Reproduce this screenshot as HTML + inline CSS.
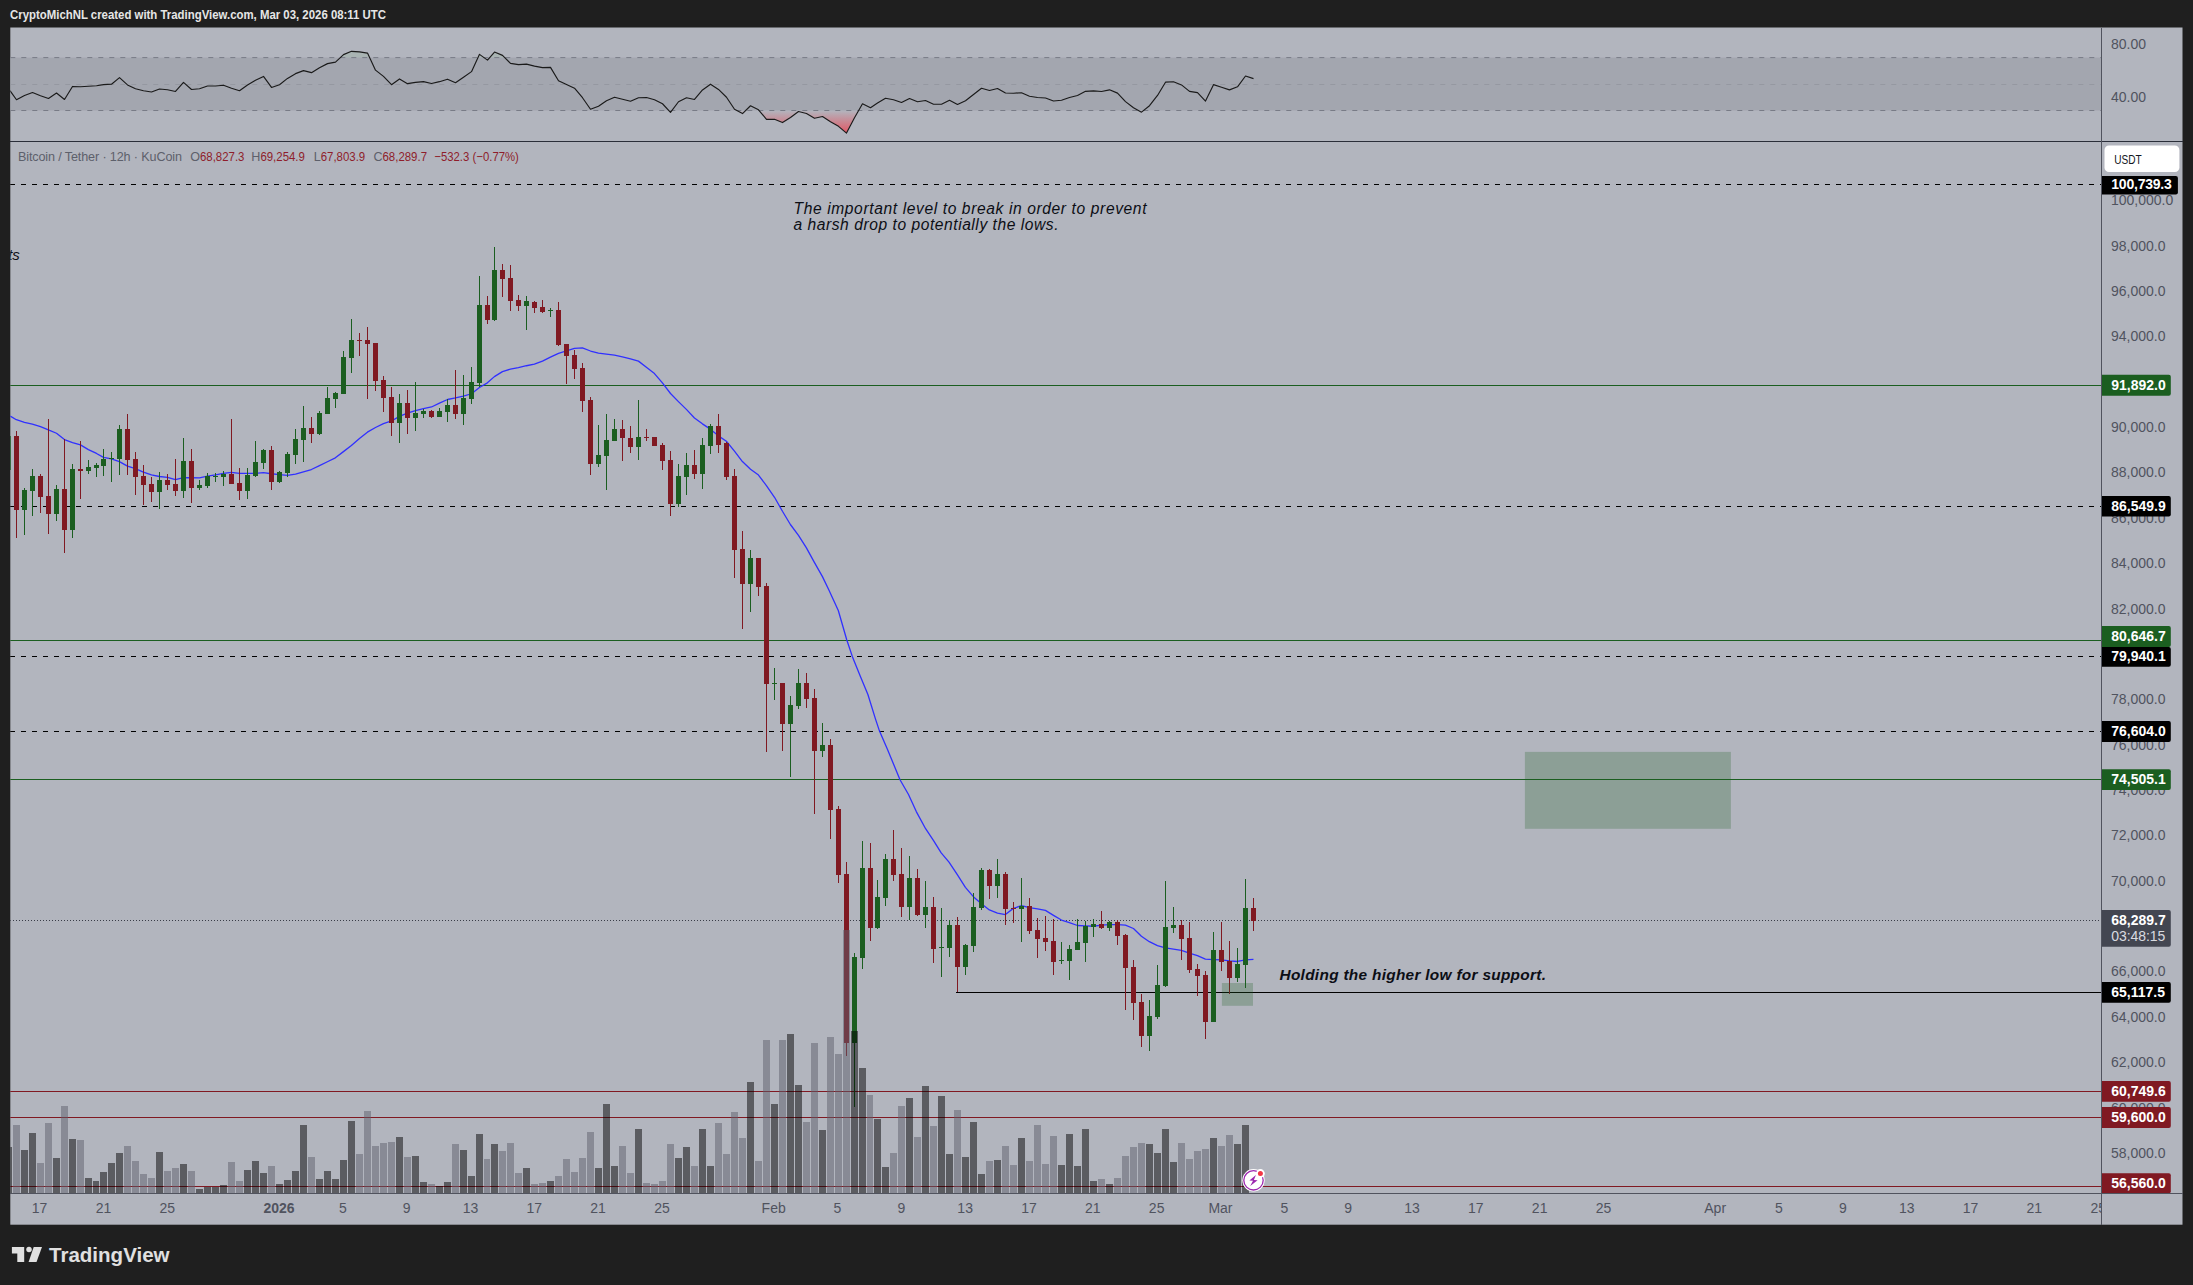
<!DOCTYPE html>
<html lang="en"><head><meta charset="utf-8"><title>BTCUSDT 12h chart</title>
<style>html,body{margin:0;padding:0;background:#1f1f1f;}body{width:2193px;height:1285px;overflow:hidden;position:relative;}svg{position:absolute;left:0;top:0;display:block;}text{font-family:'Liberation Sans', 'DejaVu Sans', sans-serif;}</style></head><body>
<svg width="2193" height="1285" viewBox="0 0 2193 1285">
<defs>
<clipPath id="cm"><rect x="10.3" y="142" width="2090.7" height="1051"/></clipPath>
<clipPath id="cr"><rect x="10.3" y="27.5" width="2090.7" height="113.5"/></clipPath>
<clipPath id="ct"><rect x="10.3" y="1194" width="2090.7" height="30.7"/></clipPath>
<clipPath id="cp"><rect x="2102" y="142" width="80.5" height="1051"/></clipPath>
<linearGradient id="gr" gradientUnits="userSpaceOnUse" x1="0" y1="110.5" x2="0" y2="135"><stop offset="0" stop-color="#f23645" stop-opacity="0"/><stop offset="1" stop-color="#f23645" stop-opacity="0.8"/></linearGradient>
</defs>
<rect x="0" y="0" width="2193" height="1285" fill="#1f1f1f"/>
<rect x="10.3" y="27.5" width="2172.2" height="1197.2" fill="#b2b5be"/>
<text x="10" y="19.2" font-size="12.6" font-weight="bold" fill="#e6e6e6" textLength="376" lengthAdjust="spacingAndGlyphs">CryptoMichNL created with TradingView.com, Mar 03, 2026 08:11 UTC</text>
<g clip-path="url(#cr)">
<rect x="10.3" y="57.6" width="2090.7" height="52.9" fill="#a3a6af"/>
<polygon points="668.83,110.5 670.5,112.28 671.85,110.5" fill="url(#gr)"/>
<polygon points="736.8,110.5 742.5,113.54 745.63,110.5" fill="url(#gr)"/>
<polygon points="759.11,110.5 766.5,119.31 774.5,119.31 782.5,122.57 790.5,117.55 798.5,111.53 806.5,113.54 814.5,118.3 822.5,116.55 830.5,121.81 838.5,126.33 846.5,133.1 854.5,117.8 858.66,110.5" fill="url(#gr)"/>
<polygon points="1138.5,110.5 1141.5,112.14 1143.54,110.5" fill="url(#gr)"/>
<polygon points="340.31,57.6 343.5,54.6 351.5,51.34 359.5,51.84 367.5,53.09 369.61,57.6" fill="#4caf50" fill-opacity="0.09"/>
<polygon points="478,57.6 479.5,54.35 484.01,57.6" fill="#4caf50" fill-opacity="0.09"/>
<polygon points="489.69,57.6 494.5,52.09 502.5,55.35 504.74,57.6" fill="#4caf50" fill-opacity="0.09"/>
<line x1="10.3" y1="57.6" x2="2101" y2="57.6" stroke="#787b86" stroke-width="1" stroke-dasharray="5 6"/>
<line x1="10.3" y1="84.5" x2="2101" y2="84.5" stroke="#9598a1" stroke-width="1" stroke-dasharray="5 6"/>
<line x1="10.3" y1="110.5" x2="2101" y2="110.5" stroke="#787b86" stroke-width="1" stroke-dasharray="5 6"/>
<polyline points="10,90.71 16.5,99.74 24.5,95.48 32.5,92.47 40.5,95.73 48.5,98.49 56.5,92.97 64.5,99.49 72.5,86.45 80.5,86.7 88.5,86.2 96.5,85.7 103.5,84.69 111.5,84.19 119.5,77.67 127.5,84.94 135.5,88.71 143.5,90.71 151.5,91.97 159.5,88.96 167.5,89.71 175.5,91.47 183.5,82.44 191.5,89.46 199.5,88.71 207.5,85.95 215.5,85.95 223.5,85.2 231.5,88.21 239.5,90.71 247.5,84.94 255.5,80.18 263.5,76.42 271.5,87.45 279.5,84.69 287.5,78.42 295.5,73.66 303.5,70.65 311.5,72.65 319.5,67.64 327.5,63.63 335.5,62.12 343.5,54.6 351.5,51.34 359.5,51.84 367.5,53.09 375.5,70.15 383.5,76.42 391.5,84.69 399.5,78.93 407.5,83.69 415.5,82.44 423.5,81.68 431.5,83.44 439.5,81.68 447.5,79.18 455.5,82.69 463.5,77.17 471.5,71.65 479.5,54.35 487.5,60.11 494.5,52.09 502.5,55.35 510.5,63.37 518.5,64.63 526.5,64.13 534.5,66.13 542.5,67.64 550.5,67.39 558.5,80.68 566.5,84.44 574.5,88.21 582.5,97.74 590.5,109.27 598.5,106.26 606.5,100.75 614.5,97.23 622.5,99.24 630.5,101.25 638.5,97.74 646.5,97.49 654.5,99.74 662.5,103.76 670.5,112.28 678.5,101.75 686.5,97.74 694.5,99.49 702.5,89.96 710.5,84.19 718.5,89.46 726.5,97.23 734.5,109.27 742.5,113.54 750.5,105.76 758.5,109.78 766.5,119.31 774.5,119.31 782.5,122.57 790.5,117.55 798.5,111.53 806.5,113.54 814.5,118.3 822.5,116.55 830.5,121.81 838.5,126.33 846.5,133.1 854.5,117.8 862.5,103.76 870.5,107.77 877.5,103 885.5,98.24 893.5,99.74 901.5,102.5 909.5,98.49 917.5,101.75 925.5,100.5 933.5,104.26 941.5,104.26 949.5,100.24 957.5,104.51 965.5,100.75 973.5,94.48 981.5,88.21 989.5,90.46 997.5,88.46 1005.5,92.97 1013.5,93.22 1021.5,92.72 1029.5,96.23 1037.5,97.49 1045.5,97.99 1053.5,101 1061.5,100.24 1069.5,97.5 1077.5,95.45 1085.5,91.35 1093.5,90.94 1101.5,91.48 1109.5,89.84 1117.5,93.13 1125.5,101.61 1133.5,107.76 1141.5,112.14 1149.5,105.71 1157.5,95.45 1165.5,82.18 1173.5,81.77 1181.5,84.92 1189.5,91.35 1197.5,92.58 1205.5,101.06 1213.5,84.64 1221.5,87.24 1229.5,89.84 1237.5,86.83 1245.5,76.03 1253.5,78.63" fill="none" stroke="#1a1a1a" stroke-width="1.15" stroke-linejoin="round"/>
</g>
<text x="2111" y="49.3" font-size="14" fill="#50535e">80.00</text>
<text x="2111" y="102.2" font-size="14" fill="#50535e">40.00</text>
<g clip-path="url(#cm)">
<line x1="10.3" y1="184.5" x2="2101" y2="184.5" stroke="#000" stroke-width="1" stroke-dasharray="5 6" shape-rendering="crispEdges"/>
<line x1="10.3" y1="506.5" x2="2101" y2="506.5" stroke="#000" stroke-width="1" stroke-dasharray="5 6" shape-rendering="crispEdges"/>
<line x1="10.3" y1="656.5" x2="2101" y2="656.5" stroke="#000" stroke-width="1" stroke-dasharray="5 6" shape-rendering="crispEdges"/>
<line x1="10.3" y1="731.5" x2="2101" y2="731.5" stroke="#000" stroke-width="1" stroke-dasharray="5 6" shape-rendering="crispEdges"/>
<line x1="10.3" y1="385.5" x2="2101" y2="385.5" stroke="#1b5e20" stroke-width="1" shape-rendering="crispEdges"/>
<line x1="10.3" y1="640.5" x2="2101" y2="640.5" stroke="#1b5e20" stroke-width="1" shape-rendering="crispEdges"/>
<line x1="10.3" y1="779.5" x2="2101" y2="779.5" stroke="#1b5e20" stroke-width="1" shape-rendering="crispEdges"/>
<line x1="10.3" y1="1091.5" x2="2101" y2="1091.5" stroke="#801922" stroke-width="1" shape-rendering="crispEdges"/>
<line x1="10.3" y1="1117.5" x2="2101" y2="1117.5" stroke="#801922" stroke-width="1" shape-rendering="crispEdges"/>
<line x1="10.3" y1="1186.5" x2="2101" y2="1186.5" stroke="#801922" stroke-width="1" shape-rendering="crispEdges"/>
<line x1="10.3" y1="920.5" x2="2101" y2="920.5" stroke="#3a3d48" stroke-width="1" stroke-dasharray="1 2" shape-rendering="crispEdges"/>
<line x1="956" y1="992.5" x2="2101" y2="992.5" stroke="#000" stroke-width="1" shape-rendering="crispEdges"/>
<polyline points="10.27,416.11 16.34,419.69 24.44,422.33 32.37,424.05 40.47,426.69 48.4,429.81 56.5,433.23 64.44,439.61 72.53,442.57 80.47,444.9 88.4,449.57 96.5,453.46 103.5,457.35 111.44,458.91 119.38,461.56 127.47,466.07 135.41,468.72 143.35,472.14 151.44,474.94 159.38,476.5 167.47,477.28 175.41,479.61 183.5,477.59 191.44,477.74 199.47,477.78 207.41,476.23 215.51,474.98 223.44,473.42 231.38,472.33 239.47,473.42 247.41,473.42 255.51,473.42 263.44,472.65 271.38,473.74 279.47,474.67 287.41,475.45 295.51,474.2 303.44,471.87 311.38,469.53 319.47,465.64 327.41,461.75 335.35,457.86 343.44,451.63 351.38,445.41 359.47,438.4 367.41,432.18 375.51,427.51 383.44,423.62 391.5,420.99 399.44,416.32 407.37,413.21 415.47,410.56 423.4,408.54 431.5,406.98 439.44,403.09 447.53,399.51 455.47,397.96 463.4,396.09 471.5,393.75 479.44,387.53 487.37,382.86 494.38,376.63 502.47,371.65 510.41,369.16 518.35,367.61 526.44,365.74 534.38,364.18 542.47,361.07 550.41,357.18 558.5,353.29 566.44,350.95 574.47,348.37 582.41,347.9 590.51,351.01 598.44,353.04 606.38,354.12 614.47,355.21 622.41,356.77 630.51,358.95 638.44,361.13 646.38,367.35 654.47,373.58 662.41,382.92 670.51,393.5 678.44,401.6 686.38,409.38 694.47,417.94 702.41,423.85 710.35,429.14 718.44,435.84 726.38,441.28 734.47,451.09 742.41,461.52 750.51,469.3 758.48,475.02 766.42,485.6 774.51,497.28 782.45,511.28 790.39,524.51 798.48,535.41 806.42,547.86 814.51,562.65 822.45,576.65 829,590.2 838.3,610.5 846.8,640 852.3,656.4 860.1,675.8 867.9,694.5 875.6,719.4 879.5,731.1 887.3,749 900,779.7 908.5,794.5 916.3,811.6 925.6,828.7 933.4,840.4 941.2,852.8 949,862.2 957.47,874.9 965.41,887.35 973.35,896.69 981.44,903.7 989.38,909.92 997.47,913.04 1005.41,914.59 1013.35,908.37 1021.44,905.72 1029.38,907.59 1037.47,908.83 1045.41,910.39 1053.5,915.37 1061.44,920.04 1069.38,922.68 1077.47,925.49 1085.41,925.95 1093.35,926.26 1101.44,925.18 1109.38,924.71 1117.47,924.71 1125.41,925.18 1133.46,928.48 1141.4,936.26 1149.34,941.71 1157.43,945.6 1165.37,947.94 1173.46,949.03 1181.4,950.27 1189.34,953.07 1197.43,955.72 1205.37,959.14 1213.31,959.61 1221.4,959.92 1229.49,960.86 1237.43,961.48 1245.53,959.92 1253.46,959.3" fill="none" stroke="#3030ff" stroke-width="1.3" stroke-linejoin="round"/>
<g shape-rendering="crispEdges">
<rect x="6" y="436" width="5" height="33.5" fill="#1b5e20"/>
<rect x="16" y="431.05" width="1" height="106.93" fill="#801922"/>
<rect x="14" y="436.34" width="5" height="73.31" fill="#801922"/>
<rect x="24" y="487.86" width="1" height="47" fill="#1b5e20"/>
<rect x="22" y="490.04" width="5" height="19.61" fill="#1b5e20"/>
<rect x="32" y="469.18" width="1" height="46.69" fill="#1b5e20"/>
<rect x="30" y="476.19" width="5" height="14.63" fill="#1b5e20"/>
<rect x="40" y="474.01" width="1" height="39.07" fill="#801922"/>
<rect x="38" y="476.19" width="5" height="20.54" fill="#801922"/>
<rect x="48" y="419.07" width="1" height="114.71" fill="#801922"/>
<rect x="46" y="496.11" width="5" height="17.59" fill="#801922"/>
<rect x="56" y="485.21" width="1" height="35.64" fill="#1b5e20"/>
<rect x="54" y="489.11" width="5" height="24.59" fill="#1b5e20"/>
<rect x="64" y="439.3" width="1" height="113.46" fill="#801922"/>
<rect x="62" y="489.11" width="5" height="40.78" fill="#801922"/>
<rect x="72" y="464.2" width="1" height="73.62" fill="#1b5e20"/>
<rect x="70" y="469.03" width="5" height="60.86" fill="#1b5e20"/>
<rect x="80" y="441.17" width="1" height="57.9" fill="#801922"/>
<rect x="78" y="469.18" width="5" height="1.56" fill="#801922"/>
<rect x="88" y="460.16" width="1" height="13.7" fill="#1b5e20"/>
<rect x="86" y="467.16" width="5" height="3.58" fill="#1b5e20"/>
<rect x="96" y="463.11" width="1" height="13.7" fill="#1b5e20"/>
<rect x="94" y="465.14" width="5" height="2.49" fill="#1b5e20"/>
<rect x="103" y="449.11" width="1" height="26.77" fill="#1b5e20"/>
<rect x="101" y="459.07" width="5" height="6.69" fill="#1b5e20"/>
<rect x="111" y="452.06" width="1" height="29.88" fill="#1b5e20"/>
<rect x="109" y="458.13" width="5" height="1" fill="#1b5e20"/>
<rect x="119" y="425.14" width="1" height="49.65" fill="#1b5e20"/>
<rect x="117" y="429.18" width="5" height="29.73" fill="#1b5e20"/>
<rect x="127" y="413.93" width="1" height="60.86" fill="#801922"/>
<rect x="125" y="429.18" width="5" height="30.66" fill="#801922"/>
<rect x="135" y="452.06" width="1" height="42.96" fill="#801922"/>
<rect x="133" y="459.22" width="5" height="17.59" fill="#801922"/>
<rect x="143" y="465.14" width="1" height="39.84" fill="#801922"/>
<rect x="141" y="476.19" width="5" height="8.72" fill="#801922"/>
<rect x="151" y="477.12" width="1" height="24.75" fill="#801922"/>
<rect x="149" y="484.12" width="5" height="7.63" fill="#801922"/>
<rect x="159" y="472.14" width="1" height="36.73" fill="#1b5e20"/>
<rect x="157" y="480.08" width="5" height="11.67" fill="#1b5e20"/>
<rect x="167" y="474.01" width="1" height="15.88" fill="#801922"/>
<rect x="165" y="480.08" width="5" height="4.82" fill="#801922"/>
<rect x="175" y="459.07" width="1" height="36.89" fill="#801922"/>
<rect x="173" y="484.12" width="5" height="6.69" fill="#801922"/>
<rect x="183" y="438.05" width="1" height="59.77" fill="#1b5e20"/>
<rect x="181" y="461.09" width="5" height="29.73" fill="#1b5e20"/>
<rect x="191" y="449.11" width="1" height="53.85" fill="#801922"/>
<rect x="189" y="461.09" width="5" height="26.61" fill="#801922"/>
<rect x="199" y="480.12" width="1" height="9.65" fill="#1b5e20"/>
<rect x="197" y="485.41" width="5" height="2.33" fill="#1b5e20"/>
<rect x="207" y="473.11" width="1" height="14.63" fill="#1b5e20"/>
<rect x="205" y="476.23" width="5" height="9.65" fill="#1b5e20"/>
<rect x="215" y="473.11" width="1" height="8.87" fill="#1b5e20"/>
<rect x="213" y="475.76" width="5" height="1.09" fill="#1b5e20"/>
<rect x="223" y="471.09" width="1" height="14.79" fill="#1b5e20"/>
<rect x="221" y="474.2" width="5" height="2.65" fill="#1b5e20"/>
<rect x="231" y="418.95" width="1" height="64.75" fill="#801922"/>
<rect x="229" y="473.74" width="5" height="9.96" fill="#801922"/>
<rect x="239" y="467.98" width="1" height="31.91" fill="#801922"/>
<rect x="237" y="483.07" width="5" height="7.78" fill="#801922"/>
<rect x="247" y="467.98" width="1" height="30.82" fill="#1b5e20"/>
<rect x="245" y="475.14" width="5" height="15.72" fill="#1b5e20"/>
<rect x="255" y="441.05" width="1" height="35.8" fill="#1b5e20"/>
<rect x="253" y="462.06" width="5" height="14.01" fill="#1b5e20"/>
<rect x="263" y="448.99" width="1" height="20.08" fill="#1b5e20"/>
<rect x="261" y="450.08" width="5" height="12.76" fill="#1b5e20"/>
<rect x="271" y="445.88" width="1" height="43.89" fill="#801922"/>
<rect x="269" y="450.08" width="5" height="31.75" fill="#801922"/>
<rect x="279" y="471.09" width="1" height="11.67" fill="#1b5e20"/>
<rect x="277" y="472.18" width="5" height="9.65" fill="#1b5e20"/>
<rect x="287" y="451.95" width="1" height="24.9" fill="#1b5e20"/>
<rect x="285" y="453.97" width="5" height="18.83" fill="#1b5e20"/>
<rect x="295" y="429.07" width="1" height="34.86" fill="#1b5e20"/>
<rect x="293" y="439.03" width="5" height="15.72" fill="#1b5e20"/>
<rect x="303" y="406.03" width="1" height="56.03" fill="#1b5e20"/>
<rect x="301" y="427.98" width="5" height="11.83" fill="#1b5e20"/>
<rect x="311" y="417.08" width="1" height="25.99" fill="#801922"/>
<rect x="309" y="427.98" width="5" height="5.91" fill="#801922"/>
<rect x="319" y="410.86" width="1" height="24.12" fill="#1b5e20"/>
<rect x="317" y="413.04" width="5" height="20.86" fill="#1b5e20"/>
<rect x="327" y="386.89" width="1" height="26.93" fill="#1b5e20"/>
<rect x="325" y="398.09" width="5" height="15.72" fill="#1b5e20"/>
<rect x="335" y="392.02" width="1" height="16.03" fill="#1b5e20"/>
<rect x="333" y="393.11" width="5" height="5.6" fill="#1b5e20"/>
<rect x="343" y="351.09" width="1" height="42.8" fill="#1b5e20"/>
<rect x="341" y="357.16" width="5" height="36.73" fill="#1b5e20"/>
<rect x="351" y="319.03" width="1" height="54.01" fill="#1b5e20"/>
<rect x="349" y="340.04" width="5" height="17.9" fill="#1b5e20"/>
<rect x="359" y="333.04" width="1" height="23.04" fill="#801922"/>
<rect x="357" y="340.04" width="5" height="1" fill="#801922"/>
<rect x="367" y="327.12" width="1" height="71.91" fill="#801922"/>
<rect x="365" y="340.04" width="5" height="3.74" fill="#801922"/>
<rect x="375" y="343" width="1" height="47.94" fill="#801922"/>
<rect x="373" y="343" width="5" height="37.98" fill="#801922"/>
<rect x="383" y="375.99" width="1" height="35.95" fill="#801922"/>
<rect x="381" y="380.04" width="5" height="17.9" fill="#801922"/>
<rect x="391" y="387.06" width="1" height="48.72" fill="#801922"/>
<rect x="389" y="397.18" width="5" height="25.68" fill="#801922"/>
<rect x="399" y="394.07" width="1" height="48.72" fill="#1b5e20"/>
<rect x="397" y="403.09" width="5" height="19.77" fill="#1b5e20"/>
<rect x="407" y="390.02" width="1" height="43.89" fill="#801922"/>
<rect x="405" y="403.09" width="5" height="14.79" fill="#801922"/>
<rect x="415" y="381.93" width="1" height="48.87" fill="#1b5e20"/>
<rect x="413" y="413.21" width="5" height="4.67" fill="#1b5e20"/>
<rect x="423" y="409.01" width="1" height="8.87" fill="#1b5e20"/>
<rect x="421" y="411.19" width="5" height="2.49" fill="#1b5e20"/>
<rect x="431" y="410.1" width="1" height="7.78" fill="#801922"/>
<rect x="429" y="411.19" width="5" height="5.45" fill="#801922"/>
<rect x="439" y="408.07" width="1" height="8.56" fill="#1b5e20"/>
<rect x="437" y="411.19" width="5" height="5.45" fill="#1b5e20"/>
<rect x="447" y="399.2" width="1" height="22.57" fill="#1b5e20"/>
<rect x="445" y="405.12" width="5" height="6.69" fill="#1b5e20"/>
<rect x="455" y="369.94" width="1" height="48.72" fill="#801922"/>
<rect x="453" y="405.12" width="5" height="8.56" fill="#801922"/>
<rect x="463" y="375.08" width="1" height="49.81" fill="#1b5e20"/>
<rect x="461" y="398.11" width="5" height="15.56" fill="#1b5e20"/>
<rect x="471" y="366.98" width="1" height="36.89" fill="#1b5e20"/>
<rect x="469" y="381.93" width="5" height="16.81" fill="#1b5e20"/>
<rect x="479" y="276.09" width="1" height="110.66" fill="#1b5e20"/>
<rect x="477" y="305.04" width="5" height="77.82" fill="#1b5e20"/>
<rect x="487" y="296.01" width="1" height="28.02" fill="#801922"/>
<rect x="485" y="305.04" width="5" height="14.79" fill="#801922"/>
<rect x="494" y="246.98" width="1" height="73.93" fill="#1b5e20"/>
<rect x="492" y="270.02" width="5" height="49.81" fill="#1b5e20"/>
<rect x="502" y="264.11" width="1" height="32.84" fill="#801922"/>
<rect x="500" y="270.02" width="5" height="8.87" fill="#801922"/>
<rect x="510" y="265.04" width="1" height="45.91" fill="#801922"/>
<rect x="508" y="278.11" width="5" height="22.72" fill="#801922"/>
<rect x="518" y="295.08" width="1" height="15.88" fill="#801922"/>
<rect x="516" y="300.06" width="5" height="5.76" fill="#801922"/>
<rect x="526" y="296.17" width="1" height="33.77" fill="#1b5e20"/>
<rect x="524" y="301.15" width="5" height="4.67" fill="#1b5e20"/>
<rect x="534" y="300.99" width="1" height="11.83" fill="#801922"/>
<rect x="532" y="301.93" width="5" height="5.91" fill="#801922"/>
<rect x="542" y="300.06" width="1" height="12.76" fill="#801922"/>
<rect x="540" y="307.06" width="5" height="4.82" fill="#801922"/>
<rect x="550" y="308" width="1" height="9.03" fill="#1b5e20"/>
<rect x="548" y="310.02" width="5" height="1" fill="#1b5e20"/>
<rect x="558" y="301.93" width="1" height="43.89" fill="#801922"/>
<rect x="556" y="310.02" width="5" height="34.86" fill="#801922"/>
<rect x="566" y="343.95" width="1" height="40" fill="#801922"/>
<rect x="564" y="343.95" width="5" height="11.67" fill="#801922"/>
<rect x="574" y="350.23" width="1" height="28.79" fill="#801922"/>
<rect x="572" y="354.9" width="5" height="14.01" fill="#801922"/>
<rect x="582" y="363" width="1" height="49.03" fill="#801922"/>
<rect x="580" y="368.13" width="5" height="32.84" fill="#801922"/>
<rect x="590" y="396.93" width="1" height="78.13" fill="#801922"/>
<rect x="588" y="400.04" width="5" height="63.81" fill="#801922"/>
<rect x="598" y="424.94" width="1" height="42.02" fill="#1b5e20"/>
<rect x="596" y="454.98" width="5" height="8.87" fill="#1b5e20"/>
<rect x="606" y="414.05" width="1" height="75.95" fill="#1b5e20"/>
<rect x="604" y="440.04" width="5" height="15.72" fill="#1b5e20"/>
<rect x="614" y="419.03" width="1" height="21.79" fill="#1b5e20"/>
<rect x="612" y="428.99" width="5" height="11.83" fill="#1b5e20"/>
<rect x="622" y="419.96" width="1" height="41.09" fill="#801922"/>
<rect x="620" y="428.99" width="5" height="8.87" fill="#801922"/>
<rect x="630" y="426.03" width="1" height="26.93" fill="#801922"/>
<rect x="628" y="437.86" width="5" height="9.03" fill="#801922"/>
<rect x="638" y="400.04" width="1" height="59.92" fill="#1b5e20"/>
<rect x="636" y="436.93" width="5" height="9.96" fill="#1b5e20"/>
<rect x="646" y="428.99" width="1" height="11.83" fill="#801922"/>
<rect x="644" y="436.93" width="5" height="1" fill="#801922"/>
<rect x="654" y="436.93" width="1" height="9.03" fill="#801922"/>
<rect x="652" y="436.93" width="5" height="9.03" fill="#801922"/>
<rect x="662" y="443" width="1" height="27.08" fill="#801922"/>
<rect x="660" y="444.86" width="5" height="16.19" fill="#801922"/>
<rect x="670" y="450.93" width="1" height="65.06" fill="#801922"/>
<rect x="668" y="459.96" width="5" height="43.89" fill="#801922"/>
<rect x="678" y="463.85" width="1" height="43.11" fill="#1b5e20"/>
<rect x="676" y="475.99" width="5" height="27.86" fill="#1b5e20"/>
<rect x="686" y="452.96" width="1" height="42.02" fill="#1b5e20"/>
<rect x="684" y="464.94" width="5" height="11.98" fill="#1b5e20"/>
<rect x="694" y="449.84" width="1" height="29.11" fill="#801922"/>
<rect x="692" y="464.94" width="5" height="9.03" fill="#801922"/>
<rect x="702" y="437.86" width="1" height="51.21" fill="#1b5e20"/>
<rect x="700" y="444.86" width="5" height="29.11" fill="#1b5e20"/>
<rect x="710" y="424.01" width="1" height="30.04" fill="#1b5e20"/>
<rect x="708" y="426.03" width="5" height="19.92" fill="#1b5e20"/>
<rect x="718" y="414.05" width="1" height="38.91" fill="#801922"/>
<rect x="716" y="426.03" width="5" height="18.83" fill="#801922"/>
<rect x="726" y="442.06" width="1" height="37.82" fill="#801922"/>
<rect x="724" y="443" width="5" height="33.93" fill="#801922"/>
<rect x="734" y="469" width="1" height="108.9" fill="#801922"/>
<rect x="732" y="476" width="5" height="73.9" fill="#801922"/>
<rect x="742" y="531" width="1" height="97.8" fill="#801922"/>
<rect x="740" y="549" width="5" height="34.7" fill="#801922"/>
<rect x="750" y="549.9" width="1" height="61.8" fill="#1b5e20"/>
<rect x="748" y="558" width="5" height="25.7" fill="#1b5e20"/>
<rect x="758" y="558" width="1" height="37.7" fill="#801922"/>
<rect x="756" y="558" width="5" height="28.7" fill="#801922"/>
<rect x="766" y="583.2" width="1" height="168.6" fill="#801922"/>
<rect x="764" y="586" width="5" height="97.9" fill="#801922"/>
<rect x="774" y="668" width="1" height="32" fill="#1b5e20"/>
<rect x="772" y="683" width="5" height="1.3" fill="#1b5e20"/>
<rect x="782" y="683" width="1" height="67.9" fill="#801922"/>
<rect x="780" y="683" width="5" height="41.1" fill="#801922"/>
<rect x="790" y="696" width="1" height="80.9" fill="#1b5e20"/>
<rect x="788" y="705" width="5" height="19.1" fill="#1b5e20"/>
<rect x="798" y="669" width="1" height="40" fill="#1b5e20"/>
<rect x="796" y="683" width="5" height="22.9" fill="#1b5e20"/>
<rect x="806" y="673" width="1" height="35" fill="#801922"/>
<rect x="804" y="683" width="5" height="16" fill="#801922"/>
<rect x="814" y="689" width="1" height="124.9" fill="#801922"/>
<rect x="812" y="697.9" width="5" height="53" fill="#801922"/>
<rect x="822" y="723" width="1" height="33.8" fill="#1b5e20"/>
<rect x="820" y="745.1" width="5" height="5.8" fill="#1b5e20"/>
<rect x="830" y="738.9" width="1" height="99.9" fill="#801922"/>
<rect x="828" y="745.1" width="5" height="64.9" fill="#801922"/>
<rect x="838" y="806.1" width="1" height="76.8" fill="#801922"/>
<rect x="836" y="809" width="5" height="65.9" fill="#801922"/>
<rect x="846" y="862" width="1" height="193.7" fill="#801922"/>
<rect x="844" y="873.9" width="5" height="168.7" fill="#801922"/>
<rect x="854" y="953" width="1" height="154.4" fill="#1b5e20"/>
<rect x="852" y="957" width="5" height="85.6" fill="#1b5e20"/>
<rect x="862" y="840.9" width="1" height="128.1" fill="#1b5e20"/>
<rect x="860" y="867.9" width="5" height="89.9" fill="#1b5e20"/>
<rect x="870" y="843" width="1" height="98" fill="#801922"/>
<rect x="868" y="867.9" width="5" height="60" fill="#801922"/>
<rect x="877" y="880.1" width="1" height="48.4" fill="#1b5e20"/>
<rect x="875" y="897.2" width="5" height="30.7" fill="#1b5e20"/>
<rect x="885" y="853.9" width="1" height="52.1" fill="#1b5e20"/>
<rect x="883" y="859.1" width="5" height="38.9" fill="#1b5e20"/>
<rect x="893" y="830" width="1" height="50.9" fill="#801922"/>
<rect x="891" y="859.1" width="5" height="15.8" fill="#801922"/>
<rect x="901" y="847.9" width="1" height="69.1" fill="#801922"/>
<rect x="899" y="873.9" width="5" height="32.9" fill="#801922"/>
<rect x="909" y="856" width="1" height="64" fill="#1b5e20"/>
<rect x="907" y="877.9" width="5" height="28.9" fill="#1b5e20"/>
<rect x="917" y="869" width="1" height="47" fill="#801922"/>
<rect x="915" y="877.9" width="5" height="36.9" fill="#801922"/>
<rect x="925" y="880.9" width="1" height="47" fill="#1b5e20"/>
<rect x="923" y="906.8" width="5" height="8" fill="#1b5e20"/>
<rect x="933" y="897.2" width="1" height="65.8" fill="#801922"/>
<rect x="931" y="906.8" width="5" height="42.1" fill="#801922"/>
<rect x="941" y="908" width="1" height="69" fill="#1b5e20"/>
<rect x="939" y="946.8" width="5" height="1.2" fill="#1b5e20"/>
<rect x="949" y="920" width="1" height="37" fill="#1b5e20"/>
<rect x="947" y="925.1" width="5" height="22.9" fill="#1b5e20"/>
<rect x="957" y="917" width="1" height="75.1" fill="#801922"/>
<rect x="955" y="925.1" width="5" height="41.7" fill="#801922"/>
<rect x="965" y="943.8" width="1" height="31.1" fill="#1b5e20"/>
<rect x="963" y="945.1" width="5" height="21.7" fill="#1b5e20"/>
<rect x="973" y="893.11" width="1" height="58.83" fill="#1b5e20"/>
<rect x="971" y="907.12" width="5" height="38.75" fill="#1b5e20"/>
<rect x="981" y="867.9" width="1" height="42.02" fill="#1b5e20"/>
<rect x="979" y="869.92" width="5" height="37.98" fill="#1b5e20"/>
<rect x="989" y="868.99" width="1" height="30.04" fill="#801922"/>
<rect x="987" y="869.92" width="5" height="16.19" fill="#801922"/>
<rect x="997" y="859.03" width="1" height="38.91" fill="#1b5e20"/>
<rect x="995" y="873.97" width="5" height="12.14" fill="#1b5e20"/>
<rect x="1005" y="871.95" width="1" height="53.07" fill="#801922"/>
<rect x="1003" y="873.97" width="5" height="35.18" fill="#801922"/>
<rect x="1013" y="901.98" width="1" height="21.01" fill="#801922"/>
<rect x="1011" y="907.9" width="5" height="1.25" fill="#801922"/>
<rect x="1021" y="878.02" width="1" height="63.81" fill="#1b5e20"/>
<rect x="1019" y="906.03" width="5" height="3.11" fill="#1b5e20"/>
<rect x="1029" y="897.94" width="1" height="36.11" fill="#801922"/>
<rect x="1027" y="906.03" width="5" height="24.9" fill="#801922"/>
<rect x="1037" y="918.02" width="1" height="39.84" fill="#801922"/>
<rect x="1035" y="930" width="5" height="9.03" fill="#801922"/>
<rect x="1045" y="915.99" width="1" height="34.86" fill="#801922"/>
<rect x="1043" y="938.09" width="5" height="3.89" fill="#801922"/>
<rect x="1053" y="918.95" width="1" height="56.03" fill="#801922"/>
<rect x="1051" y="941.05" width="5" height="21.01" fill="#801922"/>
<rect x="1061" y="941.98" width="1" height="21.95" fill="#1b5e20"/>
<rect x="1059" y="960.04" width="5" height="1" fill="#1b5e20"/>
<rect x="1069" y="944.94" width="1" height="35.02" fill="#1b5e20"/>
<rect x="1067" y="948.99" width="5" height="11.98" fill="#1b5e20"/>
<rect x="1077" y="918.95" width="1" height="30.97" fill="#1b5e20"/>
<rect x="1075" y="941.98" width="5" height="7.94" fill="#1b5e20"/>
<rect x="1085" y="920.97" width="1" height="41.09" fill="#1b5e20"/>
<rect x="1083" y="925.95" width="5" height="16.96" fill="#1b5e20"/>
<rect x="1093" y="918.95" width="1" height="18.05" fill="#1b5e20"/>
<rect x="1091" y="924.09" width="5" height="2.96" fill="#1b5e20"/>
<rect x="1101" y="911.01" width="1" height="18.05" fill="#801922"/>
<rect x="1099" y="924.09" width="5" height="3.89" fill="#801922"/>
<rect x="1109" y="920.97" width="1" height="9.96" fill="#1b5e20"/>
<rect x="1107" y="922.06" width="5" height="5.91" fill="#1b5e20"/>
<rect x="1117" y="920.04" width="1" height="24.9" fill="#801922"/>
<rect x="1115" y="922.06" width="5" height="13.85" fill="#801922"/>
<rect x="1125" y="933.93" width="1" height="75.95" fill="#801922"/>
<rect x="1123" y="935.02" width="5" height="32.68" fill="#801922"/>
<rect x="1133" y="960.08" width="1" height="59.92" fill="#801922"/>
<rect x="1131" y="966.93" width="5" height="35.95" fill="#801922"/>
<rect x="1141" y="993.85" width="1" height="52.92" fill="#801922"/>
<rect x="1139" y="1001.95" width="5" height="33.93" fill="#801922"/>
<rect x="1149" y="1000.08" width="1" height="50.89" fill="#1b5e20"/>
<rect x="1147" y="1015.95" width="5" height="19.92" fill="#1b5e20"/>
<rect x="1157" y="965.06" width="1" height="53.7" fill="#1b5e20"/>
<rect x="1155" y="984.98" width="5" height="31.91" fill="#1b5e20"/>
<rect x="1165" y="881.01" width="1" height="105.84" fill="#1b5e20"/>
<rect x="1163" y="926.93" width="5" height="59.14" fill="#1b5e20"/>
<rect x="1173" y="907" width="1" height="25.99" fill="#1b5e20"/>
<rect x="1171" y="925.06" width="5" height="2.96" fill="#1b5e20"/>
<rect x="1181" y="919.92" width="1" height="40" fill="#801922"/>
<rect x="1179" y="925.06" width="5" height="13.85" fill="#801922"/>
<rect x="1189" y="921.95" width="1" height="51.05" fill="#801922"/>
<rect x="1187" y="937.98" width="5" height="31.91" fill="#801922"/>
<rect x="1197" y="963.97" width="1" height="31.91" fill="#801922"/>
<rect x="1195" y="968.95" width="5" height="7" fill="#801922"/>
<rect x="1205" y="970.97" width="1" height="68.02" fill="#801922"/>
<rect x="1203" y="974.86" width="5" height="47" fill="#801922"/>
<rect x="1213" y="932.06" width="1" height="89.81" fill="#1b5e20"/>
<rect x="1211" y="949.96" width="5" height="71.91" fill="#1b5e20"/>
<rect x="1221" y="921.95" width="1" height="49.03" fill="#801922"/>
<rect x="1219" y="949.96" width="5" height="11.98" fill="#801922"/>
<rect x="1229" y="940.93" width="1" height="52.92" fill="#801922"/>
<rect x="1227" y="960.86" width="5" height="16.96" fill="#801922"/>
<rect x="1237" y="947.94" width="1" height="33.93" fill="#1b5e20"/>
<rect x="1235" y="963.97" width="5" height="13.85" fill="#1b5e20"/>
<rect x="1245" y="878.99" width="1" height="108.95" fill="#1b5e20"/>
<rect x="1243" y="907.94" width="5" height="57.12" fill="#1b5e20"/>
<rect x="1253" y="897.98" width="1" height="33.15" fill="#801922"/>
<rect x="1251" y="907.94" width="5" height="12.76" fill="#801922"/>
</g>
<g shape-rendering="crispEdges">
<rect x="5" y="1147.12" width="7" height="46.08" fill="#000" fill-opacity="0.5"/>
<rect x="13" y="1125.08" width="7" height="68.12" fill="#5d606b" fill-opacity="0.5"/>
<rect x="21" y="1150.03" width="7" height="43.17" fill="#000" fill-opacity="0.49"/>
<rect x="29" y="1132.96" width="7" height="60.24" fill="#000" fill-opacity="0.49"/>
<rect x="37" y="1163.02" width="7" height="30.18" fill="#5d606b" fill-opacity="0.5"/>
<rect x="45" y="1123.04" width="7" height="70.16" fill="#5d606b" fill-opacity="0.5"/>
<rect x="53" y="1158.06" width="7" height="35.14" fill="#000" fill-opacity="0.49"/>
<rect x="61" y="1106.11" width="7" height="87.09" fill="#5d606b" fill-opacity="0.5"/>
<rect x="69" y="1138.94" width="7" height="54.26" fill="#000" fill-opacity="0.49"/>
<rect x="77" y="1139.96" width="7" height="53.24" fill="#5d606b" fill-opacity="0.5"/>
<rect x="85" y="1177.9" width="7" height="15.3" fill="#000" fill-opacity="0.49"/>
<rect x="93" y="1180.97" width="6" height="12.23" fill="#000" fill-opacity="0.49"/>
<rect x="100" y="1171.92" width="7" height="21.28" fill="#000" fill-opacity="0.49"/>
<rect x="108" y="1163.02" width="7" height="30.18" fill="#000" fill-opacity="0.49"/>
<rect x="116" y="1152.95" width="7" height="40.25" fill="#000" fill-opacity="0.49"/>
<rect x="124" y="1146.09" width="7" height="47.11" fill="#5d606b" fill-opacity="0.5"/>
<rect x="132" y="1160.98" width="7" height="32.22" fill="#5d606b" fill-opacity="0.5"/>
<rect x="140" y="1173.96" width="7" height="19.24" fill="#5d606b" fill-opacity="0.5"/>
<rect x="148" y="1177.9" width="7" height="15.3" fill="#5d606b" fill-opacity="0.5"/>
<rect x="156" y="1151.93" width="7" height="41.27" fill="#000" fill-opacity="0.49"/>
<rect x="164" y="1170.9" width="7" height="22.3" fill="#5d606b" fill-opacity="0.5"/>
<rect x="172" y="1167.98" width="7" height="25.22" fill="#5d606b" fill-opacity="0.5"/>
<rect x="180" y="1163.9" width="7" height="29.3" fill="#000" fill-opacity="0.49"/>
<rect x="188" y="1170.9" width="7" height="22.3" fill="#5d606b" fill-opacity="0.5"/>
<rect x="196" y="1188.99" width="7" height="4.21" fill="#000" fill-opacity="0.49"/>
<rect x="204" y="1186.95" width="7" height="6.25" fill="#000" fill-opacity="0.49"/>
<rect x="212" y="1186.95" width="7" height="6.25" fill="#000" fill-opacity="0.49"/>
<rect x="220" y="1184.91" width="7" height="8.29" fill="#000" fill-opacity="0.49"/>
<rect x="228" y="1162" width="7" height="31.2" fill="#5d606b" fill-opacity="0.5"/>
<rect x="236" y="1180.97" width="7" height="12.23" fill="#5d606b" fill-opacity="0.5"/>
<rect x="244" y="1169.88" width="7" height="23.32" fill="#000" fill-opacity="0.49"/>
<rect x="252" y="1160.98" width="7" height="32.22" fill="#000" fill-opacity="0.49"/>
<rect x="260" y="1172.94" width="7" height="20.26" fill="#000" fill-opacity="0.49"/>
<rect x="268" y="1165.94" width="7" height="27.26" fill="#5d606b" fill-opacity="0.5"/>
<rect x="276" y="1183.89" width="7" height="9.31" fill="#000" fill-opacity="0.49"/>
<rect x="284" y="1179.95" width="7" height="13.25" fill="#000" fill-opacity="0.49"/>
<rect x="292" y="1170.9" width="7" height="22.3" fill="#000" fill-opacity="0.49"/>
<rect x="300" y="1125.08" width="7" height="68.12" fill="#000" fill-opacity="0.49"/>
<rect x="308" y="1157.04" width="7" height="36.16" fill="#5d606b" fill-opacity="0.5"/>
<rect x="316" y="1178.93" width="7" height="14.27" fill="#000" fill-opacity="0.49"/>
<rect x="324" y="1170.9" width="7" height="22.3" fill="#000" fill-opacity="0.49"/>
<rect x="332" y="1178.93" width="7" height="14.27" fill="#000" fill-opacity="0.49"/>
<rect x="340" y="1159.96" width="7" height="33.24" fill="#000" fill-opacity="0.49"/>
<rect x="348" y="1121" width="7" height="72.2" fill="#000" fill-opacity="0.49"/>
<rect x="356" y="1154.12" width="7" height="39.08" fill="#5d606b" fill-opacity="0.5"/>
<rect x="364" y="1111.07" width="7" height="82.13" fill="#5d606b" fill-opacity="0.5"/>
<rect x="372" y="1146.09" width="7" height="47.11" fill="#5d606b" fill-opacity="0.5"/>
<rect x="380" y="1143.03" width="7" height="50.17" fill="#5d606b" fill-opacity="0.5"/>
<rect x="388" y="1142.01" width="7" height="51.19" fill="#5d606b" fill-opacity="0.5"/>
<rect x="396" y="1136.9" width="7" height="56.3" fill="#000" fill-opacity="0.49"/>
<rect x="404" y="1157.04" width="7" height="36.16" fill="#5d606b" fill-opacity="0.5"/>
<rect x="412" y="1156.02" width="7" height="37.18" fill="#000" fill-opacity="0.49"/>
<rect x="420" y="1181.99" width="7" height="11.21" fill="#000" fill-opacity="0.49"/>
<rect x="428" y="1183.89" width="7" height="9.31" fill="#5d606b" fill-opacity="0.5"/>
<rect x="436" y="1185.93" width="7" height="7.27" fill="#000" fill-opacity="0.49"/>
<rect x="444" y="1181.99" width="7" height="11.21" fill="#000" fill-opacity="0.49"/>
<rect x="452" y="1144.05" width="7" height="49.15" fill="#5d606b" fill-opacity="0.5"/>
<rect x="460" y="1150.03" width="7" height="43.17" fill="#000" fill-opacity="0.49"/>
<rect x="468" y="1176.01" width="7" height="17.19" fill="#000" fill-opacity="0.49"/>
<rect x="476" y="1133.98" width="7" height="59.22" fill="#000" fill-opacity="0.49"/>
<rect x="484" y="1158.93" width="6" height="34.27" fill="#5d606b" fill-opacity="0.5"/>
<rect x="491" y="1144.05" width="7" height="49.15" fill="#000" fill-opacity="0.49"/>
<rect x="499" y="1151.06" width="7" height="42.14" fill="#5d606b" fill-opacity="0.5"/>
<rect x="507" y="1143.03" width="7" height="50.17" fill="#5d606b" fill-opacity="0.5"/>
<rect x="515" y="1172.94" width="7" height="20.26" fill="#5d606b" fill-opacity="0.5"/>
<rect x="523" y="1167.98" width="7" height="25.22" fill="#000" fill-opacity="0.49"/>
<rect x="531" y="1183.89" width="7" height="9.31" fill="#5d606b" fill-opacity="0.5"/>
<rect x="539" y="1183.01" width="7" height="10.19" fill="#5d606b" fill-opacity="0.5"/>
<rect x="547" y="1180.97" width="7" height="12.23" fill="#000" fill-opacity="0.49"/>
<rect x="555" y="1176.01" width="7" height="17.19" fill="#5d606b" fill-opacity="0.5"/>
<rect x="563" y="1158.93" width="7" height="34.27" fill="#5d606b" fill-opacity="0.5"/>
<rect x="571" y="1171.92" width="7" height="21.28" fill="#5d606b" fill-opacity="0.5"/>
<rect x="579" y="1158.06" width="7" height="35.14" fill="#5d606b" fill-opacity="0.5"/>
<rect x="587" y="1132.09" width="7" height="61.11" fill="#5d606b" fill-opacity="0.5"/>
<rect x="595" y="1167.98" width="7" height="25.22" fill="#000" fill-opacity="0.49"/>
<rect x="603" y="1104.07" width="7" height="89.13" fill="#000" fill-opacity="0.49"/>
<rect x="611" y="1165.94" width="7" height="27.26" fill="#000" fill-opacity="0.49"/>
<rect x="619" y="1146.09" width="7" height="47.11" fill="#5d606b" fill-opacity="0.5"/>
<rect x="627" y="1172.94" width="7" height="20.26" fill="#5d606b" fill-opacity="0.5"/>
<rect x="635" y="1129.02" width="7" height="64.18" fill="#000" fill-opacity="0.49"/>
<rect x="643" y="1183.01" width="7" height="10.19" fill="#5d606b" fill-opacity="0.5"/>
<rect x="651" y="1183.89" width="7" height="9.31" fill="#5d606b" fill-opacity="0.5"/>
<rect x="659" y="1180.97" width="7" height="12.23" fill="#5d606b" fill-opacity="0.5"/>
<rect x="667" y="1144.05" width="7" height="49.15" fill="#5d606b" fill-opacity="0.5"/>
<rect x="675" y="1158.06" width="7" height="35.14" fill="#000" fill-opacity="0.49"/>
<rect x="683" y="1147.12" width="7" height="46.08" fill="#000" fill-opacity="0.49"/>
<rect x="691" y="1165.94" width="7" height="27.26" fill="#5d606b" fill-opacity="0.5"/>
<rect x="699" y="1129.02" width="7" height="64.18" fill="#000" fill-opacity="0.49"/>
<rect x="707" y="1165.94" width="7" height="27.26" fill="#000" fill-opacity="0.49"/>
<rect x="715" y="1123.04" width="7" height="70.16" fill="#5d606b" fill-opacity="0.5"/>
<rect x="723" y="1154.12" width="7" height="39.08" fill="#5d606b" fill-opacity="0.5"/>
<rect x="731" y="1112.09" width="7" height="81.11" fill="#5d606b" fill-opacity="0.5"/>
<rect x="739" y="1138.07" width="7" height="55.13" fill="#5d606b" fill-opacity="0.5"/>
<rect x="747" y="1082.18" width="7" height="111.02" fill="#000" fill-opacity="0.49"/>
<rect x="755" y="1160.98" width="7" height="32.22" fill="#5d606b" fill-opacity="0.5"/>
<rect x="763" y="1040.1" width="7" height="153.1" fill="#5d606b" fill-opacity="0.5"/>
<rect x="771" y="1104.07" width="7" height="89.13" fill="#000" fill-opacity="0.49"/>
<rect x="779" y="1040.1" width="7" height="153.1" fill="#5d606b" fill-opacity="0.5"/>
<rect x="787" y="1033.9" width="7" height="159.3" fill="#000" fill-opacity="0.49"/>
<rect x="795" y="1085.1" width="7" height="108.1" fill="#000" fill-opacity="0.49"/>
<rect x="803" y="1122.02" width="7" height="71.18" fill="#5d606b" fill-opacity="0.5"/>
<rect x="811" y="1043.1" width="7" height="150.1" fill="#5d606b" fill-opacity="0.5"/>
<rect x="819" y="1130.04" width="7" height="63.16" fill="#000" fill-opacity="0.49"/>
<rect x="827" y="1037" width="7" height="156.2" fill="#5d606b" fill-opacity="0.5"/>
<rect x="835" y="1054" width="7" height="139.2" fill="#5d606b" fill-opacity="0.5"/>
<rect x="843" y="929.8" width="7" height="263.4" fill="#5d606b" fill-opacity="0.5"/>
<rect x="851" y="1031.1" width="7" height="162.1" fill="#000" fill-opacity="0.49"/>
<rect x="859" y="1068.03" width="7" height="125.17" fill="#000" fill-opacity="0.49"/>
<rect x="867" y="1095.02" width="6" height="98.18" fill="#5d606b" fill-opacity="0.5"/>
<rect x="874" y="1119.1" width="7" height="74.1" fill="#000" fill-opacity="0.49"/>
<rect x="882" y="1166.96" width="7" height="26.24" fill="#000" fill-opacity="0.49"/>
<rect x="890" y="1153.1" width="7" height="40.1" fill="#5d606b" fill-opacity="0.5"/>
<rect x="898" y="1106.11" width="7" height="87.09" fill="#5d606b" fill-opacity="0.5"/>
<rect x="906" y="1098.09" width="7" height="95.11" fill="#000" fill-opacity="0.49"/>
<rect x="914" y="1137.05" width="7" height="56.15" fill="#5d606b" fill-opacity="0.5"/>
<rect x="922" y="1085.9" width="7" height="107.3" fill="#000" fill-opacity="0.49"/>
<rect x="930" y="1126" width="7" height="67.2" fill="#5d606b" fill-opacity="0.5"/>
<rect x="938" y="1096" width="7" height="97.2" fill="#000" fill-opacity="0.49"/>
<rect x="946" y="1154" width="7" height="39.2" fill="#000" fill-opacity="0.49"/>
<rect x="954" y="1110" width="7" height="83.2" fill="#5d606b" fill-opacity="0.5"/>
<rect x="962" y="1157.04" width="7" height="36.16" fill="#000" fill-opacity="0.49"/>
<rect x="970" y="1122.02" width="7" height="71.18" fill="#000" fill-opacity="0.49"/>
<rect x="978" y="1173.96" width="7" height="19.24" fill="#000" fill-opacity="0.49"/>
<rect x="986" y="1160.98" width="7" height="32.22" fill="#5d606b" fill-opacity="0.5"/>
<rect x="994" y="1159.96" width="7" height="33.24" fill="#000" fill-opacity="0.49"/>
<rect x="1002" y="1146.09" width="7" height="47.11" fill="#5d606b" fill-opacity="0.5"/>
<rect x="1010" y="1165.06" width="7" height="28.14" fill="#5d606b" fill-opacity="0.5"/>
<rect x="1018" y="1138.07" width="7" height="55.13" fill="#000" fill-opacity="0.49"/>
<rect x="1026" y="1160.98" width="7" height="32.22" fill="#5d606b" fill-opacity="0.5"/>
<rect x="1034" y="1125.08" width="7" height="68.12" fill="#5d606b" fill-opacity="0.5"/>
<rect x="1042" y="1164.04" width="7" height="29.16" fill="#5d606b" fill-opacity="0.5"/>
<rect x="1050" y="1136.03" width="7" height="57.17" fill="#5d606b" fill-opacity="0.5"/>
<rect x="1058" y="1165.06" width="7" height="28.14" fill="#000" fill-opacity="0.49"/>
<rect x="1066" y="1134.13" width="7" height="59.07" fill="#000" fill-opacity="0.49"/>
<rect x="1074" y="1165.94" width="7" height="27.26" fill="#000" fill-opacity="0.49"/>
<rect x="1082" y="1129.02" width="7" height="64.18" fill="#000" fill-opacity="0.49"/>
<rect x="1090" y="1180.97" width="7" height="12.23" fill="#000" fill-opacity="0.49"/>
<rect x="1098" y="1178.93" width="7" height="14.27" fill="#5d606b" fill-opacity="0.5"/>
<rect x="1106" y="1183.89" width="7" height="9.31" fill="#000" fill-opacity="0.49"/>
<rect x="1114" y="1177.9" width="7" height="15.3" fill="#5d606b" fill-opacity="0.5"/>
<rect x="1122" y="1156.02" width="7" height="37.18" fill="#5d606b" fill-opacity="0.5"/>
<rect x="1130" y="1147.12" width="7" height="46.08" fill="#5d606b" fill-opacity="0.5"/>
<rect x="1138" y="1143.03" width="7" height="50.17" fill="#5d606b" fill-opacity="0.5"/>
<rect x="1146" y="1144.05" width="7" height="49.15" fill="#000" fill-opacity="0.49"/>
<rect x="1154" y="1153.1" width="7" height="40.1" fill="#000" fill-opacity="0.49"/>
<rect x="1162" y="1129.02" width="7" height="64.18" fill="#000" fill-opacity="0.49"/>
<rect x="1170" y="1162" width="7" height="31.2" fill="#000" fill-opacity="0.49"/>
<rect x="1178" y="1143.03" width="7" height="50.17" fill="#5d606b" fill-opacity="0.5"/>
<rect x="1186" y="1159.08" width="7" height="34.12" fill="#5d606b" fill-opacity="0.5"/>
<rect x="1194" y="1151.06" width="7" height="42.14" fill="#5d606b" fill-opacity="0.5"/>
<rect x="1202" y="1149.01" width="7" height="44.19" fill="#5d606b" fill-opacity="0.5"/>
<rect x="1210" y="1138.07" width="7" height="55.13" fill="#000" fill-opacity="0.49"/>
<rect x="1218" y="1146.09" width="7" height="47.11" fill="#5d606b" fill-opacity="0.5"/>
<rect x="1226" y="1135" width="7" height="58.2" fill="#5d606b" fill-opacity="0.5"/>
<rect x="1234" y="1144.05" width="7" height="49.15" fill="#000" fill-opacity="0.49"/>
<rect x="1242" y="1125.08" width="7" height="68.12" fill="#000" fill-opacity="0.49"/>
</g>
<rect x="1524.9" y="751.9" width="206" height="76.9" fill="#1b5e20" fill-opacity="0.25"/>
<rect x="1221.9" y="983" width="31.1" height="22.8" fill="#1b5e20" fill-opacity="0.25"/>
<text x="793.5" y="213.7" font-size="15.6" font-style="italic" fill="#0c0e15" textLength="353" lengthAdjust="spacing">The important level to break in order to prevent</text>
<text x="793.5" y="229.6" font-size="15.6" font-style="italic" fill="#0c0e15" textLength="265" lengthAdjust="spacing">a harsh drop to potentially the lows.</text>
<text x="1279.5" y="980" font-size="15.4" font-style="italic" font-weight="bold" fill="#0c0e15" textLength="266.5" lengthAdjust="spacing">Holding the higher low for support.</text>
<text x="-0.2" y="260" font-size="15" font-style="italic" fill="#0c0e15">nts</text>
<text y="161.3" font-size="12.6" fill="#5d606b"><tspan x="18" textLength="164" lengthAdjust="spacing">Bitcoin / Tether · 12h · KuCoin</tspan><tspan x="190.2">O</tspan><tspan fill="#8f1d2b" textLength="44.5" lengthAdjust="spacingAndGlyphs">68,827.3</tspan><tspan x="251.3">H</tspan><tspan fill="#8f1d2b" textLength="44.5" lengthAdjust="spacingAndGlyphs">69,254.9</tspan><tspan x="313.7">L</tspan><tspan fill="#8f1d2b" textLength="44.5" lengthAdjust="spacingAndGlyphs">67,803.9</tspan><tspan x="373.4">C</tspan><tspan fill="#8f1d2b" textLength="44.5" lengthAdjust="spacingAndGlyphs">68,289.7</tspan><tspan x="434.3" fill="#8f1d2b" textLength="84.6" lengthAdjust="spacingAndGlyphs">−532.3 (−0.77%)</tspan></text>
<g>
<circle cx="1253.5" cy="1180.3" r="11.2" fill="#fff"/>
<circle cx="1253.5" cy="1180.3" r="9.7" fill="none" stroke="#9c27b0" stroke-width="1.3"/>
<polygon points="1255.9,1175.1 1249.4,1180.6 1253,1180.75 1250.2,1186.1 1257.6,1180.15 1253.9,1180.0" fill="#9c27b0"/>
<circle cx="1260.4" cy="1173.5" r="4.4" fill="#fff"/>
<circle cx="1260.4" cy="1173.5" r="2.5" fill="#f23645"/>
</g>
</g>
<g shape-rendering="crispEdges">
<rect x="10.3" y="141" width="2172.2" height="1" fill="#2a2e39"/>
<rect x="2101" y="27.5" width="1" height="1197.2" fill="#50535e"/>
<rect x="10.3" y="1193" width="2172.2" height="1" fill="#50535e"/>
</g>
<g clip-path="url(#cp)">
<text x="2111" y="205.2" font-size="14" fill="#50535e">100,000.0</text>
<text x="2111" y="250.57" font-size="14" fill="#50535e">98,000.0</text>
<text x="2111" y="295.94" font-size="14" fill="#50535e">96,000.0</text>
<text x="2111" y="341.3" font-size="14" fill="#50535e">94,000.0</text>
<text x="2111" y="386.67" font-size="14" fill="#50535e">92,000.0</text>
<text x="2111" y="432.04" font-size="14" fill="#50535e">90,000.0</text>
<text x="2111" y="477.41" font-size="14" fill="#50535e">88,000.0</text>
<text x="2111" y="522.78" font-size="14" fill="#50535e">86,000.0</text>
<text x="2111" y="568.14" font-size="14" fill="#50535e">84,000.0</text>
<text x="2111" y="613.51" font-size="14" fill="#50535e">82,000.0</text>
<text x="2111" y="658.88" font-size="14" fill="#50535e">80,000.0</text>
<text x="2111" y="704.25" font-size="14" fill="#50535e">78,000.0</text>
<text x="2111" y="749.62" font-size="14" fill="#50535e">76,000.0</text>
<text x="2111" y="794.98" font-size="14" fill="#50535e">74,000.0</text>
<text x="2111" y="840.35" font-size="14" fill="#50535e">72,000.0</text>
<text x="2111" y="885.72" font-size="14" fill="#50535e">70,000.0</text>
<text x="2111" y="931.09" font-size="14" fill="#50535e">68,000.0</text>
<text x="2111" y="976.46" font-size="14" fill="#50535e">66,000.0</text>
<text x="2111" y="1021.82" font-size="14" fill="#50535e">64,000.0</text>
<text x="2111" y="1067.19" font-size="14" fill="#50535e">62,000.0</text>
<text x="2111" y="1112.56" font-size="14" fill="#50535e">60,000.0</text>
<text x="2111" y="1157.93" font-size="14" fill="#50535e">58,000.0</text>
<path d="M2102,176 H2175.9 a2,2 0 0 1 2,2 V192.6 a2,2 0 0 1 -2,2 H2102 Z" fill="#000"/>
<text x="2111.3" y="188.9" font-size="14" font-weight="bold" fill="#fff" textLength="60.5" lengthAdjust="spacing">100,739.3</text>
<path d="M2102,374.8 H2168.8 a2,2 0 0 1 2,2 V393.8 a2,2 0 0 1 -2,2 H2102 Z" fill="#1b5e20"/>
<text x="2111.3" y="389.8" font-size="14" font-weight="bold" fill="#fff">91,892.0</text>
<path d="M2102,496 H2168.8 a2,2 0 0 1 2,2 V514.6 a2,2 0 0 1 -2,2 H2102 Z" fill="#000"/>
<text x="2111.3" y="510.8" font-size="14" font-weight="bold" fill="#fff">86,549.9</text>
<path d="M2102,626.1 H2168.8 a2,2 0 0 1 2,2 V645.1 a2,2 0 0 1 -2,2 H2102 Z" fill="#1b5e20"/>
<text x="2111.3" y="641.1" font-size="14" font-weight="bold" fill="#fff">80,646.7</text>
<path d="M2102,647.1 H2168.8 a2,2 0 0 1 2,2 V664.8 a2,2 0 0 1 -2,2 H2102 Z" fill="#000"/>
<text x="2111.3" y="661.4" font-size="14" font-weight="bold" fill="#fff">79,940.1</text>
<path d="M2102,721 H2168.8 a2,2 0 0 1 2,2 V740 a2,2 0 0 1 -2,2 H2102 Z" fill="#000"/>
<text x="2111.3" y="736" font-size="14" font-weight="bold" fill="#fff">76,604.0</text>
<path d="M2102,769.3 H2168.8 a2,2 0 0 1 2,2 V787.9 a2,2 0 0 1 -2,2 H2102 Z" fill="#1b5e20"/>
<text x="2111.3" y="784.1" font-size="14" font-weight="bold" fill="#fff">74,505.1</text>
<path d="M2102,982 H2168.8 a2,2 0 0 1 2,2 V1000.7 a2,2 0 0 1 -2,2 H2102 Z" fill="#000"/>
<text x="2111.3" y="996.85" font-size="14" font-weight="bold" fill="#fff">65,117.5</text>
<path d="M2102,1081 H2168.8 a2,2 0 0 1 2,2 V1099.7 a2,2 0 0 1 -2,2 H2102 Z" fill="#801922"/>
<text x="2111.3" y="1095.85" font-size="14" font-weight="bold" fill="#fff">60,749.6</text>
<path d="M2102,1107.1 H2168.8 a2,2 0 0 1 2,2 V1125.9 a2,2 0 0 1 -2,2 H2102 Z" fill="#801922"/>
<text x="2111.3" y="1122" font-size="14" font-weight="bold" fill="#fff">59,600.0</text>
<path d="M2102,1173.2 H2168.8 a2,2 0 0 1 2,2 V1191.3 a2,2 0 0 1 -2,2 H2102 Z" fill="#801922"/>
<text x="2111.3" y="1188.4" font-size="14" font-weight="bold" fill="#fff">56,560.0</text>
<path d="M2102,910.1 H2168.8 a2,2 0 0 1 2,2 V944.8 a2,2 0 0 1 -2,2 H2102 Z" fill="#434651"/>
<text x="2111.3" y="924.6" font-size="14" font-weight="bold" fill="#fff">68,289.7</text>
<text x="2111.3" y="941.0" font-size="14" fill="#d9dae0" textLength="54">03:48:15</text>
</g>
<rect x="2104.5" y="145.4" width="74.9" height="26.7" rx="4.5" ry="4.5" fill="#fff"/>
<text x="2114.3" y="163.7" font-size="12" fill="#131722" textLength="27.5" lengthAdjust="spacingAndGlyphs">USDT</text>
<g clip-path="url(#ct)">
<text x="39.6" y="1213.4" font-size="14" fill="#50535e" text-anchor="middle">17</text>
<text x="103.43" y="1213.4" font-size="14" fill="#50535e" text-anchor="middle">21</text>
<text x="167.26" y="1213.4" font-size="14" fill="#50535e" text-anchor="middle">25</text>
<text x="278.97" y="1213.4" font-size="14" fill="#50535e" text-anchor="middle" font-weight="bold">2026</text>
<text x="342.8" y="1213.4" font-size="14" fill="#50535e" text-anchor="middle">5</text>
<text x="406.63" y="1213.4" font-size="14" fill="#50535e" text-anchor="middle">9</text>
<text x="470.47" y="1213.4" font-size="14" fill="#50535e" text-anchor="middle">13</text>
<text x="534.3" y="1213.4" font-size="14" fill="#50535e" text-anchor="middle">17</text>
<text x="598.13" y="1213.4" font-size="14" fill="#50535e" text-anchor="middle">21</text>
<text x="661.96" y="1213.4" font-size="14" fill="#50535e" text-anchor="middle">25</text>
<text x="773.67" y="1213.4" font-size="14" fill="#50535e" text-anchor="middle">Feb</text>
<text x="837.5" y="1213.4" font-size="14" fill="#50535e" text-anchor="middle">5</text>
<text x="901.33" y="1213.4" font-size="14" fill="#50535e" text-anchor="middle">9</text>
<text x="965.16" y="1213.4" font-size="14" fill="#50535e" text-anchor="middle">13</text>
<text x="1029" y="1213.4" font-size="14" fill="#50535e" text-anchor="middle">17</text>
<text x="1092.83" y="1213.4" font-size="14" fill="#50535e" text-anchor="middle">21</text>
<text x="1156.66" y="1213.4" font-size="14" fill="#50535e" text-anchor="middle">25</text>
<text x="1220.49" y="1213.4" font-size="14" fill="#50535e" text-anchor="middle">Mar</text>
<text x="1284.32" y="1213.4" font-size="14" fill="#50535e" text-anchor="middle">5</text>
<text x="1348.16" y="1213.4" font-size="14" fill="#50535e" text-anchor="middle">9</text>
<text x="1411.99" y="1213.4" font-size="14" fill="#50535e" text-anchor="middle">13</text>
<text x="1475.82" y="1213.4" font-size="14" fill="#50535e" text-anchor="middle">17</text>
<text x="1539.65" y="1213.4" font-size="14" fill="#50535e" text-anchor="middle">21</text>
<text x="1603.48" y="1213.4" font-size="14" fill="#50535e" text-anchor="middle">25</text>
<text x="1715.19" y="1213.4" font-size="14" fill="#50535e" text-anchor="middle">Apr</text>
<text x="1779.02" y="1213.4" font-size="14" fill="#50535e" text-anchor="middle">5</text>
<text x="1842.85" y="1213.4" font-size="14" fill="#50535e" text-anchor="middle">9</text>
<text x="1906.69" y="1213.4" font-size="14" fill="#50535e" text-anchor="middle">13</text>
<text x="1970.52" y="1213.4" font-size="14" fill="#50535e" text-anchor="middle">17</text>
<text x="2034.35" y="1213.4" font-size="14" fill="#50535e" text-anchor="middle">21</text>
<text x="2098.18" y="1213.4" font-size="14" fill="#50535e" text-anchor="middle">25</text>
</g>
<g fill="#e0e0e0">
<path d="M11.9,1246.9 H24.2 V1261.9 H17.3 V1253.4 H11.9 Z"/>
<circle cx="29" cy="1249.6" r="2.75"/>
<path d="M33.7,1246.9 H42 L36.5,1261.9 H28.6 Z"/>
<text x="49" y="1261.9" font-size="21" font-weight="bold" textLength="120.6" lengthAdjust="spacingAndGlyphs">TradingView</text>
</g>
</svg></body></html>
